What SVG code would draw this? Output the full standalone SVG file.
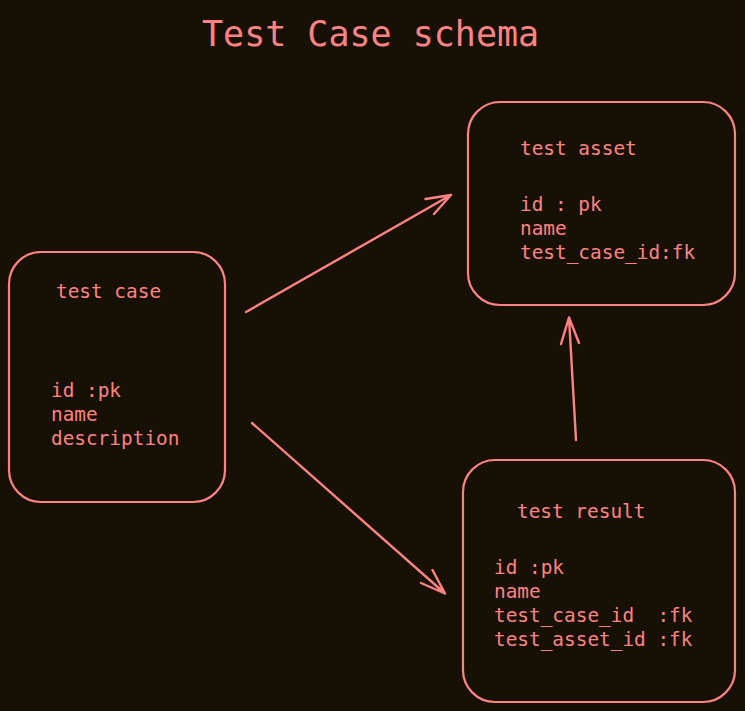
<svg xmlns="http://www.w3.org/2000/svg" width="745" height="711" viewBox="0 0 745 711">
<style>
.box{fill:none;stroke:#ff8383;stroke-width:2.2}
.t{fill:#ff8383;font-family:"DejaVu Sans Mono","Liberation Mono",monospace;font-size:19.4px;white-space:pre}
.title{fill:#ff8383;font-family:"DejaVu Sans Mono","Liberation Mono",monospace;font-size:35px}
.c{fill:none;stroke:#ff8383;stroke-width:2.4;stroke-linecap:round;stroke-linejoin:round}
</style>
<rect width="745" height="711" fill="#161104"/>
<text class="title" x="202" y="46">Test Case schema</text>
<g id="test-asset">
<rect class="box" x="468" y="102" width="267" height="203" rx="32"/>
<text class="t" x="520" y="155">test asset</text>
<text class="t" x="520" y="211">id : pk</text>
<text class="t" x="520" y="235">name</text>
<text class="t" x="520" y="259">test_case_id:fk</text>
</g>
<g id="test-case">
<rect class="box" x="9" y="252" width="216" height="250" rx="32"/>
<text class="t" x="56" y="298">test case</text>
<text class="t" x="51" y="397">id :pk</text>
<text class="t" x="51" y="421">name</text>
<text class="t" x="51" y="445">description</text>
</g>
<g id="test-result">
<rect class="box" x="463" y="460" width="272" height="242" rx="32"/>
<text class="t" x="517" y="518">test result</text>
<text class="t" x="494" y="574">id :pk</text>
<text class="t" x="494" y="598">name</text>
<text class="t" x="494" y="622" xml:space="preserve">test_case_id  :fk</text>
<text class="t" x="494" y="646">test_asset_id :fk</text>
</g>
<g id="connectors">
<path class="c" d="M246 312 L451 195 M425.5 199 L451 195 L434 214"/>
<path class="c" d="M252 423 L445 593.5 M421 583 L445 593.5 L432.5 570"/>
<path class="c" d="M576 440 L569 317.5 M561 344 L569 317.5 L579 343"/>
</g>
</svg>
